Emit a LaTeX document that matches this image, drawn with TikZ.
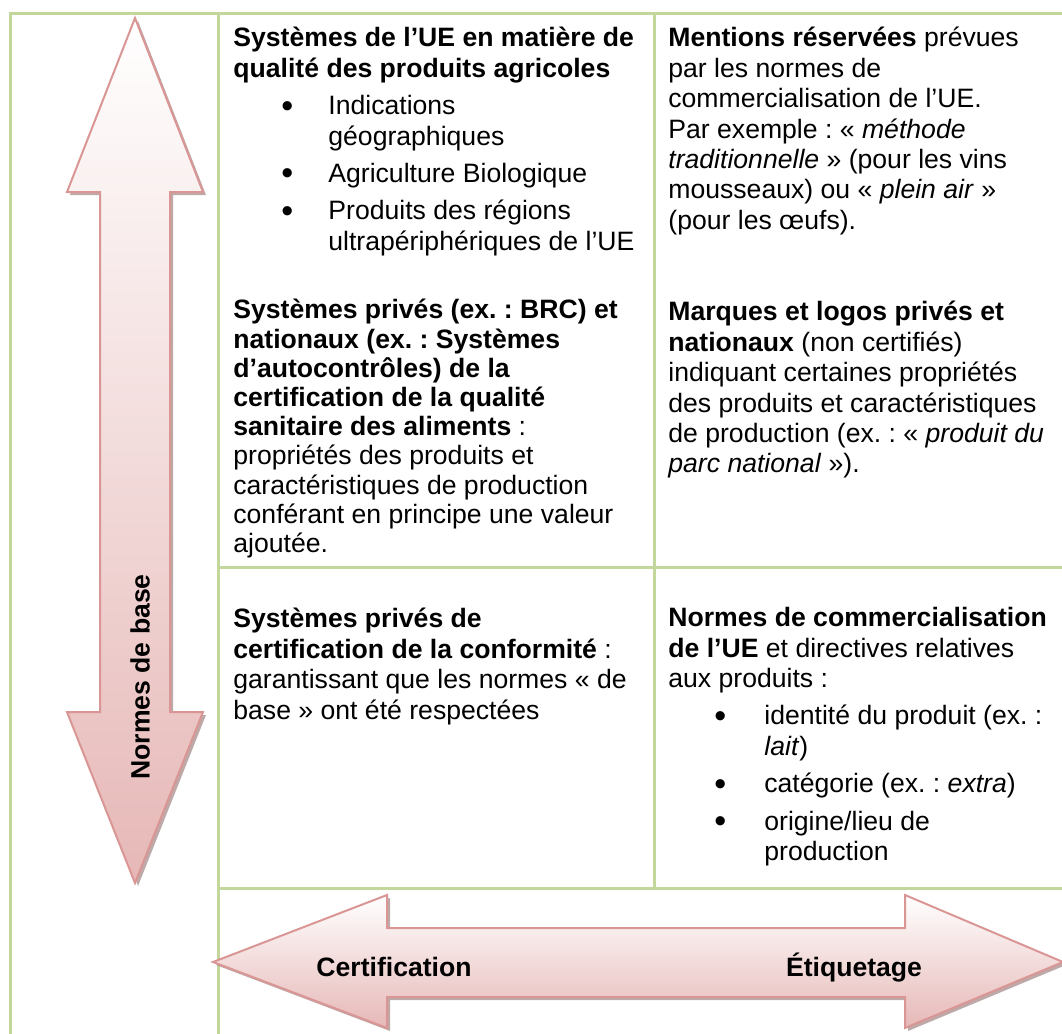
\documentclass[tikz,border=0pt]{standalone}
\usepackage{fontspec}
\setmainfont{Liberation Sans}
\usetikzlibrary{positioning}
\frenchspacing
\definecolor{gridgreen}{HTML}{C3D69B}
\definecolor{arrowline}{HTML}{D99694}
\definecolor{arrowpink}{HTML}{E6B8B7}
\definecolor{arrowshadow}{HTML}{A88C8C}
% bullet and hanging indent for the lists
\newcommand{\bigdot}{\raisebox{-1.2pt}{\fontsize{17}{15}\selectfont•}}
\newcommand{\bulA}{\hspace*{24pt}\makebox[23.5pt][l]{\bigdot}}
\newcommand{\indA}{\hspace*{47.5pt}}
\newcommand{\bulB}{\hspace*{23pt}\makebox[25pt][l]{\bigdot}}
\newcommand{\indB}{\hspace*{48pt}}

\begin{document}
\begin{tikzpicture}[x=0.5pt, y=-0.5pt,
  grid/.style={draw=gridgreen, line width=1.5pt},
  bigarrow/.style={draw=arrowline, line width=1pt, line join=miter, top color=white, bottom color=arrowpink},
  shadow/.style={fill=arrowshadow, opacity=0.75},
  cell/.style={anchor=north west, inner sep=0pt, align=left, font=\fontsize{13.3}{15.2}\selectfont},
  label/.style={inner sep=0pt, font=\fontsize{13.3}{15.2}\selectfont\bfseries}]
\useasboundingbox (0,0) rectangle (1062,1034);
\clip (0,0) rectangle (1062,1034);

% table lines
\draw[grid] (10,1034) -- (10,13) -- (1062,13);
\draw[grid] (218,13) -- (218,1034);
\draw[grid] (654,13) -- (654,888);
\draw[grid] (218,567) -- (1062,567);
\draw[grid] (218,888) -- (1062,888);

% vertical arrow
\fill[shadow] (138,21) -- (206,195) -- (173,195) -- (173,715) -- (206,715) -- (138,886) -- (70,715) -- (103,715) -- (103,195) -- (70,195) -- cycle;
\path[bigarrow] (135,18) -- (203,192) -- (170,192) -- (170,712) -- (203,712) -- (135,883) -- (67,712) -- (100,712) -- (100,192) -- (67,192) -- cycle;
\node[label, rotate=90] (basic) at (140,677) {Normes de base};

% horizontal arrow
\fill[shadow] (216,965) -- (390,898) -- (390,931) -- (908,931) -- (908,898) -- (1066,965) -- (908,1031) -- (908,1000) -- (390,1000) -- (390,1031) -- cycle;
\path[bigarrow] (213,962) -- (387,895) -- (387,928) -- (905,928) -- (905,895) -- (1063,962) -- (905,1028) -- (905,997) -- (387,997) -- (387,1028) -- cycle;
\node[label, anchor=base] (cert) at (394,976) {Certification};
\node[label, anchor=base] (label) at (854,976) {Étiquetage};

% cells
\node[cell] (euqual) at (233,27) {\textbf{Systèmes de l’UE en matière de}\\
  \textbf{qualité des produits agricoles}\\[3.5pt]
  \bulA Indications\\
  \indA géographiques\\[3.5pt]
  \bulA Agriculture Biologique\\[3.5pt]
  \bulA Produits des régions\\
  \indA ultrapériphériques de l’UE};
\node[cell] (reserved) at (668,27) {\textbf{Mentions réservées} prévues\\
  par les normes de\\
  commercialisation de l’UE.\\
  Par exemple : «~\textit{méthode}\\
  \textit{traditionnelle}~» (pour les vins\\
  mousseaux) ou «~\textit{plein air}~»\\
  (pour les œufs).};
\node[cell, font=\fontsize{13.3}{14.6}\selectfont] (privqual) at (233,299) {\textbf{Systèmes privés (ex. : BRC) et}\\
  \textbf{nationaux (ex. : Systèmes}\\
  \textbf{d’autocontrôles) de la}\\
  \textbf{certification de la qualité}\\
  \textbf{sanitaire des aliments} :\\
  propriétés des produits et\\
  caractéristiques de production\\
  conférant en principe une valeur\\
  ajoutée.};
\node[cell] (logos) at (668,301) {\textbf{Marques et logos privés et}\\
  \textbf{nationaux} (non certifiés)\\
  indiquant certaines propriétés\\
  des produits et caractéristiques\\
  de production (ex. : «~\textit{produit du}\\
  \textit{parc national}~»).};
\node[cell] (conform) at (233,608) {\textbf{Systèmes privés de}\\
  \textbf{certification de la conformité} :\\
  garantissant que les normes « de\\
  base » ont été respectées};
\node[cell] (mktstd) at (668,607) {\textbf{Normes de commercialisation}\\
  \textbf{de l’UE} et directives relatives\\
  aux produits :\\[3.5pt]
  \bulB identité du produit (ex. :\\
  \indB \textit{lait})\\[3.5pt]
  \bulB catégorie (ex. : \textit{extra})\\[3.5pt]
  \bulB origine/lieu de\\
  \indB production};
\end{tikzpicture}
\end{document}
